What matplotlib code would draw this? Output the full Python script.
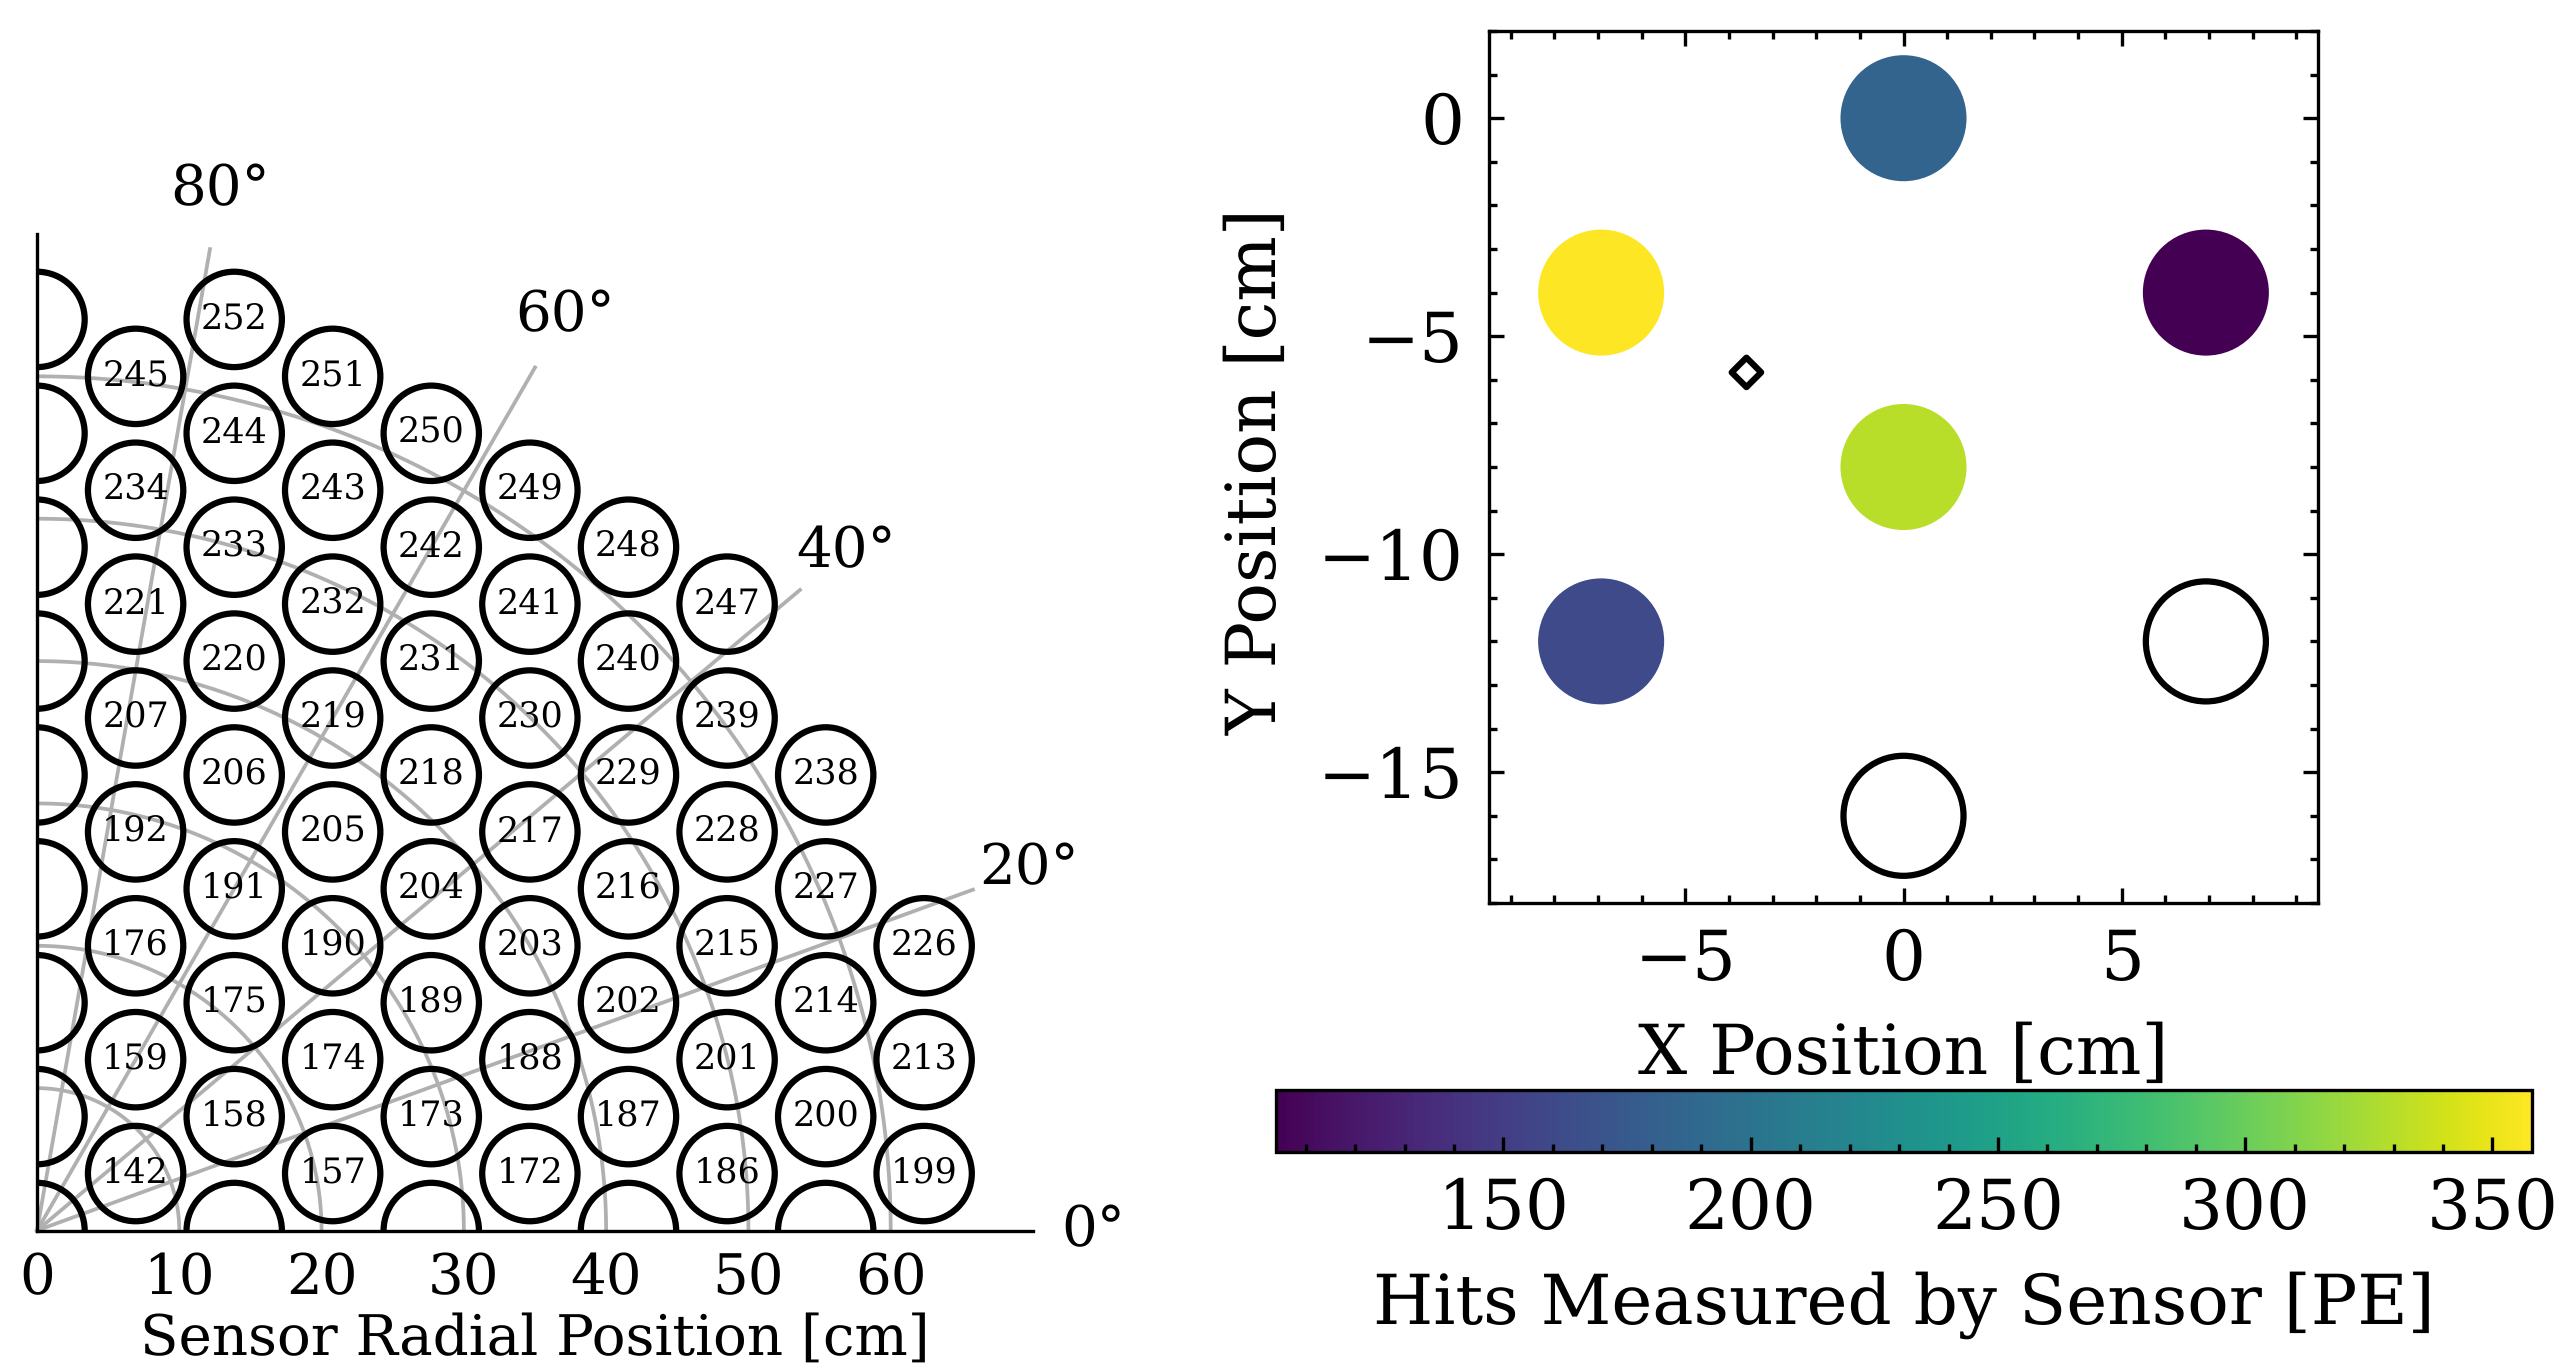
import numpy as np
import matplotlib
matplotlib.use("Agg")
import matplotlib.pyplot as plt
from matplotlib.patches import Circle
from matplotlib.ticker import MultipleLocator

plt.rcParams['font.family'] = ['DejaVu Serif']
plt.rcParams['mathtext.fontset'] = 'dejavuserif'
plt.rcParams['text.hinting'] = 'none'

W, H, DPI = 2565, 1366, 300

# ---- left panel data: (x column, y values, ids; None = unlabelled)
col_x = [0, 6.93, 13.86, 20.78, 27.71, 34.64, 41.57, 48.5, 55.43, 62.35]
col_y = [
    [0, 8, 16, 24, 32, 40, 48, 56, 64],
    [4, 12, 20, 28, 36, 44, 52, 60],
    [0, 8, 16, 24, 32, 40, 48, 56, 64],
    [4, 12, 20, 28, 36, 44, 52, 60],
    [0, 8, 16, 24, 32, 40, 48, 56],
    [4, 12, 20, 28, 36, 44, 52],
    [0, 8, 16, 24, 32, 40, 48],
    [4, 12, 20, 28, 36, 44],
    [0, 8, 16, 24, 32],
    [4, 12, 20],
]
col_id = [
    [None] * 9,
    [142, 159, 176, 192, 207, 221, 234, 245],
    [None, 158, 175, 191, 206, 220, 233, 244, 252],
    [157, 174, 190, 205, 219, 232, 243, 251],
    [None, 173, 189, 204, 218, 231, 242, 250],
    [172, 188, 203, 217, 230, 241, 249],
    [None, 187, 202, 216, 229, 240, 248],
    [186, 201, 215, 228, 239, 247],
    [None, 200, 214, 227, 238],
    [199, 213, 226],
]
sensor_radius = 3.35
radial_ticks = [10, 20, 30, 40, 50, 60]
angle_grid = [20, 40, 60, 80]
angle_labels = [0, 20, 40, 60, 80]
r_max = 70
r_label = 74.2
x_ticks_left = [0, 10, 20, 30, 40, 50, 60]

# ---- right panel data
hit_x = [0, -6.93, 6.93, 0, -6.93]
hit_y = [0, -4, -4, -8, -12]
hit_pe = [185, 358, 104, 331, 161]
empty_x = [6.93, 0]
empty_y = [-12, -16]
marker_x = [-3.6]
marker_y = [-5.83]
cb_ticks = [150, 200, 250, 300, 350]


def frac(x0, y0, x1, y1):
    return [x0 / W, 1 - y1 / H, (x1 - x0) / W, (y1 - y0) / H]


fig = plt.figure(figsize=(W / DPI, H / DPI), dpi=DPI)

# ---------------- left
ax = fig.add_axes(frac(37, 234, 1033, 1230.5))
ax.set_xlim(0, 70)
ax.set_ylim(0, 70)
for s in ['top', 'right']:
    ax.spines[s].set_visible(False)
for s in ['left', 'bottom']:
    ax.spines[s].set_linewidth(0.8)
    ax.spines[s].set_zorder(5)

theta = np.linspace(0, np.pi / 2, 200)
for r in radial_ticks:
    ax.plot(r * np.cos(theta), r * np.sin(theta), color='#b0b0b0', lw=0.9, zorder=1)
for a in angle_grid:
    t = np.deg2rad(a)
    ax.plot([0, r_max * np.cos(t)], [0, r_max * np.sin(t)], color='#b0b0b0', lw=0.9,
            zorder=1, clip_on=False)
for a in angle_labels:
    t = np.deg2rad(a)
    ax.text(r_label * np.cos(t), r_label * np.sin(t), f"{a}\u00b0", fontsize=13.5,
            ha='center', va='center', clip_on=False)

for x, ys, ids in zip(col_x, col_y, col_id):
    for y, i in zip(ys, ids):
        ax.add_patch(Circle((x, y), sensor_radius, fill=False, ec='black', lw=1.5, zorder=2))
        if i is not None:
            ax.text(x, y, str(i), fontsize=8.4, ha='center', va='center', zorder=3)

ax.set_xticks(x_ticks_left)
ax.set_yticks([])
ax.tick_params(axis='x', length=0, pad=5, labelsize=13.5)
ax.set_xlabel("Sensor Radial Position [cm]", fontsize=13.5, labelpad=1.5)

# ---------------- right
ax2 = fig.add_axes(frac(1489, 31, 2318, 903))
ax2.set_xlim(-9.5, 9.5)
ax2.set_ylim(-18, 2)
sc = ax2.scatter(hit_x, hit_y, c=hit_pe, s=915, cmap='viridis', vmin=104, vmax=358,
                 linewidths=0, zorder=2)
ax2.scatter(empty_x, empty_y, s=830, facecolors='none', edgecolors='black', linewidths=1.5, zorder=2)
ax2.scatter(marker_x, marker_y, marker='D', s=25, facecolors='none', edgecolors='black',
            linewidths=1.5, zorder=3)
ax2.xaxis.set_major_locator(MultipleLocator(5))
ax2.xaxis.set_minor_locator(MultipleLocator(1))
ax2.yaxis.set_major_locator(MultipleLocator(5))
ax2.yaxis.set_minor_locator(MultipleLocator(1))
ax2.tick_params(which='both', direction='in', top=True, right=True, width=0.8)
ax2.tick_params(which='major', length=3.5, labelsize=16.6, pad=6)
ax2.tick_params(which='minor', length=2)
for s in ax2.spines.values():
    s.set_linewidth(0.8)
ax2.set_xlabel("X Position [cm]", fontsize=16.6, labelpad=6.5)
ax2.set_ylabel("Y Position [cm]", fontsize=16.6, labelpad=6.5, y=0.495)

# ---------------- colorbar
cax = fig.add_axes(frac(1276, 1090, 2532, 1152))
cb = fig.colorbar(sc, cax=cax, orientation='horizontal')
cb.set_ticks(cb_ticks)
cax.xaxis.set_minor_locator(MultipleLocator(10))
cax.tick_params(which='both', direction='in', bottom=True, top=False, width=0.8)
cax.tick_params(which='major', length=3.5, labelsize=16.6, pad=6)
cax.tick_params(which='minor', length=2)
cb.outline.set_linewidth(0.8)
cb.set_label("Hits Measured by Sensor [PE]", fontsize=16.6, labelpad=6.5)

fig.savefig("out.png", dpi=DPI, facecolor='white')
